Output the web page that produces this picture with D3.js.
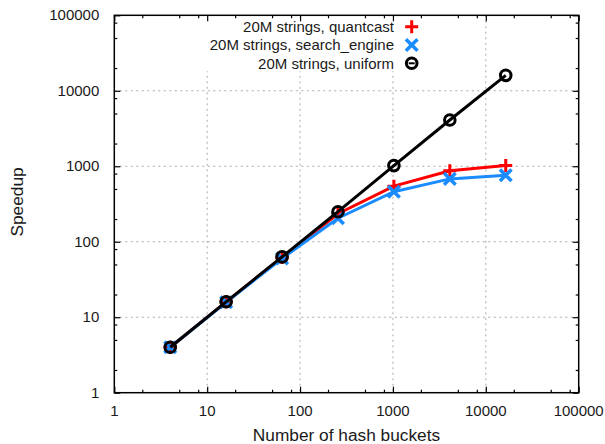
<!DOCTYPE html>
<html>
<head>
<meta charset="utf-8">
<script src="https://cdn.jsdelivr.net/npm/d3@7"></script>
<style>
  body { margin: 0; background: #fff; }
  text { font-family: "Liberation Sans", Arial, sans-serif; fill: #1a1a1a; }
</style>
</head>
<body>
<div class="chart"></div>
<script>
var svgWidth = 605;
var svgHeight = 444;

var margin = { top: 15.3, right: 26.3, bottom: 51.3, left: 114.3 };
var width = svgWidth - margin.left - margin.right;
var height = svgHeight - margin.top - margin.bottom;

// data
var buckets = [4, 16, 64, 256, 1024, 4096, 16384];
var quantcast = [4, 16, 62, 235, 545, 870, 1020];
var searchEngine = [4, 15.8, 60, 205, 460, 680, 760];
var uniform = [4, 16, 63, 250, 1020, 4100, 16000];

var seriesNames = ["20M strings, quantcast", "20M strings, search_engine", "20M strings, uniform"];
var seriesColors = ["#ff0000", "#1a8cff", "#000000"];
var seriesSymbols = ["plus", "cross", "circle"];

var majorTicks = [1, 10, 100, 1000, 10000, 100000];
var minorSteps = [2, 5, 8];

var svg = d3.select(".chart")
  .append("svg")
  .attr("width", svgWidth)
  .attr("height", svgHeight);

var chartGroup = svg.append("g")
  .attr("transform", `translate(${margin.left}, ${margin.top})`);

var xScale = d3.scaleLog().domain([1, 100000]).range([0, width]);
var yScale = d3.scaleLog().domain([1, 100000]).range([height, 0]);

var minorTicks = [];
majorTicks.slice(0, -1).forEach(t => minorSteps.forEach(m => minorTicks.push(t * m)));

// grid
var grid = chartGroup.append("g");
majorTicks.slice(1, -1).forEach(t => {
  grid.append("line")
    .attr("x1", xScale(t)).attr("x2", xScale(t))
    .attr("y1", 0).attr("y2", height);
  grid.append("line")
    .attr("x1", 0).attr("x2", width)
    .attr("y1", yScale(t)).attr("y2", yScale(t));
});
grid.selectAll("line")
  .attr("stroke", "#aaaaaa")
  .attr("stroke-width", 1)
  .attr("stroke-dasharray", "2,3.5");

// legend box hides grid behind the key
chartGroup.append("rect")
  .attr("x", 82).attr("y", 0)
  .attr("width", 230).attr("height", 56)
  .attr("fill", "#fff");

// axes, ticks mirrored on all four sides
function tickAxis(axis, size, vals) {
  return axis.tickValues(vals).tickSize(size).tickFormat("");
}
chartGroup.append("g").attr("transform", `translate(0,${height})`)
  .call(tickAxis(d3.axisTop(xScale), 6, majorTicks));
chartGroup.append("g").attr("transform", `translate(0,${height})`)
  .call(tickAxis(d3.axisTop(xScale), 3, minorTicks));
chartGroup.append("g")
  .call(tickAxis(d3.axisBottom(xScale), 6, majorTicks));
chartGroup.append("g")
  .call(tickAxis(d3.axisBottom(xScale), 3, minorTicks));
chartGroup.append("g")
  .call(tickAxis(d3.axisRight(yScale), 6, majorTicks));
chartGroup.append("g")
  .call(tickAxis(d3.axisRight(yScale), 3, minorTicks));
chartGroup.append("g").attr("transform", `translate(${width},0)`)
  .call(tickAxis(d3.axisLeft(yScale), 6, majorTicks));
chartGroup.append("g").attr("transform", `translate(${width},0)`)
  .call(tickAxis(d3.axisLeft(yScale), 3, minorTicks));

chartGroup.selectAll(".domain").remove();
chartGroup.selectAll(".tick line").attr("stroke", "#000").attr("stroke-width", 1.2);

chartGroup.append("rect")
  .attr("width", width).attr("height", height)
  .attr("fill", "none").attr("stroke", "#000").attr("stroke-width", 1.5);

// tick labels
chartGroup.append("g").selectAll("text")
  .data(majorTicks).enter().append("text")
  .attr("x", d => xScale(d))
  .attr("y", height + 23)
  .attr("text-anchor", "middle")
  .attr("font-size", 15)
  .text(d => d);

chartGroup.append("g").selectAll("text")
  .data(majorTicks).enter().append("text")
  .attr("x", -15)
  .attr("y", d => yScale(d) + 5)
  .attr("text-anchor", "end")
  .attr("font-size", 15)
  .text(d => d);

// axis titles
chartGroup.append("text")
  .attr("x", width / 2)
  .attr("y", height + 48)
  .attr("text-anchor", "middle")
  .attr("font-size", 17.3)
  .text("Number of hash buckets");

chartGroup.append("text")
  .attr("transform", `translate(${23 - margin.left}, ${height / 2 - 2}) rotate(-90)`)
  .attr("text-anchor", "middle")
  .attr("font-size", 17.3)
  .text("Speedup");

// symbol drawing
function drawSymbol(g, kind, color) {
  if (kind === "plus") {
    g.append("path").attr("d", "M-6.5,0H6.5M0,-6.5V6.5")
      .attr("stroke", color).attr("stroke-width", 3).attr("fill", "none");
  } else if (kind === "cross") {
    g.append("path").attr("d", "M-5.8,-5.8L5.8,5.8M-5.8,5.8L5.8,-5.8")
      .attr("stroke", color).attr("stroke-width", 3.5).attr("fill", "none");
  } else {
    g.append("circle").attr("r", 5.3)
      .attr("stroke", color).attr("stroke-width", 3).attr("fill", "none");
  }
}

var line = d3.line()
  .x(d => xScale(d.x))
  .y(d => yScale(d.y));

[quantcast, searchEngine, uniform].forEach((vals, i) => {
  var pts = buckets.map((b, j) => ({ x: b, y: vals[j] }));
  chartGroup.append("path")
    .datum(pts)
    .attr("d", line)
    .attr("fill", "none")
    .attr("stroke", seriesColors[i])
    .attr("stroke-width", 3);
  pts.forEach(p => {
    var g = chartGroup.append("g")
      .attr("transform", `translate(${xScale(p.x)},${yScale(p.y)})`);
    drawSymbol(g, seriesSymbols[i], seriesColors[i]);
  });
});

// legend
seriesNames.forEach((name, i) => {
  var ly = 11.4 + i * 18.3;
  chartGroup.append("text")
    .attr("x", 394 - margin.left)
    .attr("y", ly + 5.3)
    .attr("text-anchor", "end")
    .attr("font-size", 15)
    .text(name);
  var g = chartGroup.append("g")
    .attr("transform", `translate(${411.7 - margin.left},${ly})`);
  drawSymbol(g, seriesSymbols[i], seriesColors[i]);
  if (seriesSymbols[i] === "circle") {
    g.append("path").attr("d", "M-3,0H3").attr("stroke", "#000").attr("stroke-width", 2);
  }
});
</script>
</body>
</html>
